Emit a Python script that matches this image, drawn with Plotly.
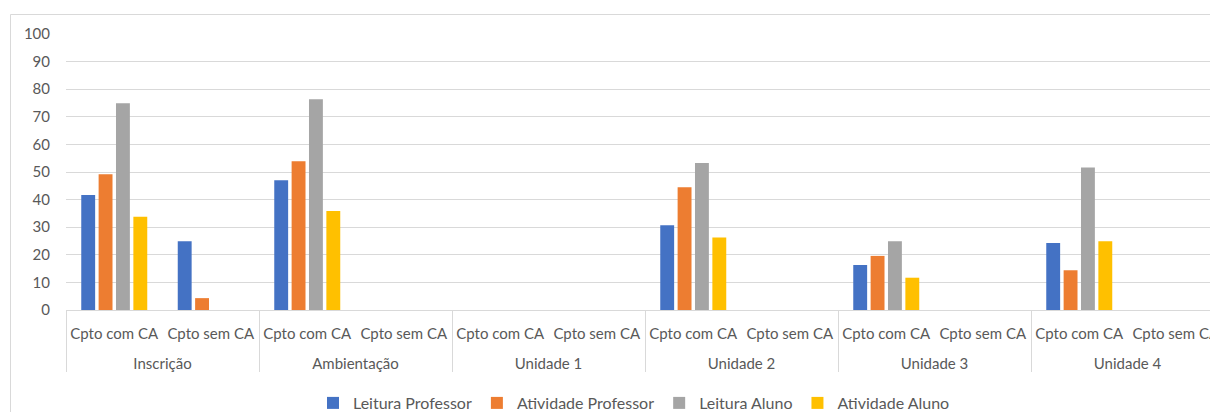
import plotly.graph_objects as go

groups = ["Inscrição", "Ambientação", "Unidade 1", "Unidade 2", "Unidade 3", "Unidade 4"]
subcats = ["Cpto com CA", "Cpto sem CA"]

series_names = ["Leitura Professor", "Atividade Professor", "Leitura Aluno", "Atividade Aluno"]
series_colors = ["#4472C4", "#ED7D31", "#A5A5A5", "#FFC000"]

# order: Inscrição (com, sem), Ambientação (com, sem), Unidade 1 (com, sem), Unidade 2, Unidade 3, Unidade 4
leitura_professor = [41.7, 24.9, 47.0, 0, 0, 0, 30.7, 0, 16.3, 0, 24.3, 0]
atividade_professor = [49.2, 4.3, 53.9, 0, 0, 0, 44.5, 0, 19.6, 0, 14.4, 0]
leitura_aluno = [74.9, 0, 76.4, 0, 0, 0, 53.3, 0, 24.9, 0, 51.6, 0]
atividade_aluno = [33.8, 0, 35.9, 0, 0, 0, 26.3, 0, 11.7, 0, 24.9, 0]

series_values = [leitura_professor, atividade_professor, leitura_aluno, atividade_aluno]

# group labels get a leading empty line so they sit lower, as in the reference
x_outer = ["<br>" + g for g in groups for _ in subcats]
x_inner = [s for _ in groups for s in subcats]

fig = go.Figure()
for name, color, vals in zip(series_names, series_colors, series_values):
    fig.add_trace(go.Bar(
        x=[x_outer, x_inner], y=vals, name=name,
        marker=dict(color=color, line=dict(width=0)),
    ))

OFF = 8  # page body margin of the html page
W = 1218 - OFF
H = 420 - OFF          # figure runs a little past the window bottom, like the cropped reference
L, T = 66 - OFF, 34 - OFF
B = H - (310 - OFF)
plot_w = W - L
plot_h = H - T - B
cat_w = 96.5

def px_x(px):
    return (px - OFF - L) / plot_w

def px_y(py):
    return (H - B - (py - OFF)) / plot_h

FONT = "Lato, Carlito, Calibri, 'Open Sans', sans-serif"
GREY = "#595959"

fig.update_layout(
    width=W, height=H,
    margin=dict(l=L, r=0, t=T, b=B),
    paper_bgcolor="white", plot_bgcolor="white",
    barmode="group", bargap=0.28, bargroupgap=0.2,
    font=dict(family=FONT, size=15, color=GREY),
    showlegend=True,
    legend=dict(orientation="h", x=px_x(634), xanchor="center",
                y=px_y(403), yanchor="middle",
                font=dict(family=FONT, size=16, color=GREY),
                itemwidth=30, traceorder="normal", bgcolor="rgba(0,0,0,0)"),
    xaxis=dict(
        type="multicategory",
        range=[-0.5, -0.5 + plot_w / cat_w],
        automargin=False, tickangle=0,
        showline=True, linecolor="#D9D9D9", linewidth=1,
        showdividers=True, dividercolor="#D9D9D9", dividerwidth=1,
        ticks="", ticklabelstandoff=10,
        showgrid=False,
        tickfont=dict(family=FONT, size=15, color=GREY),
    ),
    yaxis=dict(
        range=[0, 100], dtick=10, automargin=False,
        showgrid=True, gridcolor="#D9D9D9", gridwidth=1,
        zeroline=False, showline=False, ticks="",
        tickfont=dict(family=FONT, size=15, color=GREY),
        ticklabelstandoff=15,
    ),
    shapes=[
        dict(type="rect", xref="paper", yref="paper",
             x0=px_x(10.5), x1=px_x(1240), y0=px_y(14.5), y1=px_y(440),
             line=dict(color="#D9D9D9", width=1), fillcolor="rgba(0,0,0,0)", layer="below"),
    ],
)

fig.write_html("out.html")
